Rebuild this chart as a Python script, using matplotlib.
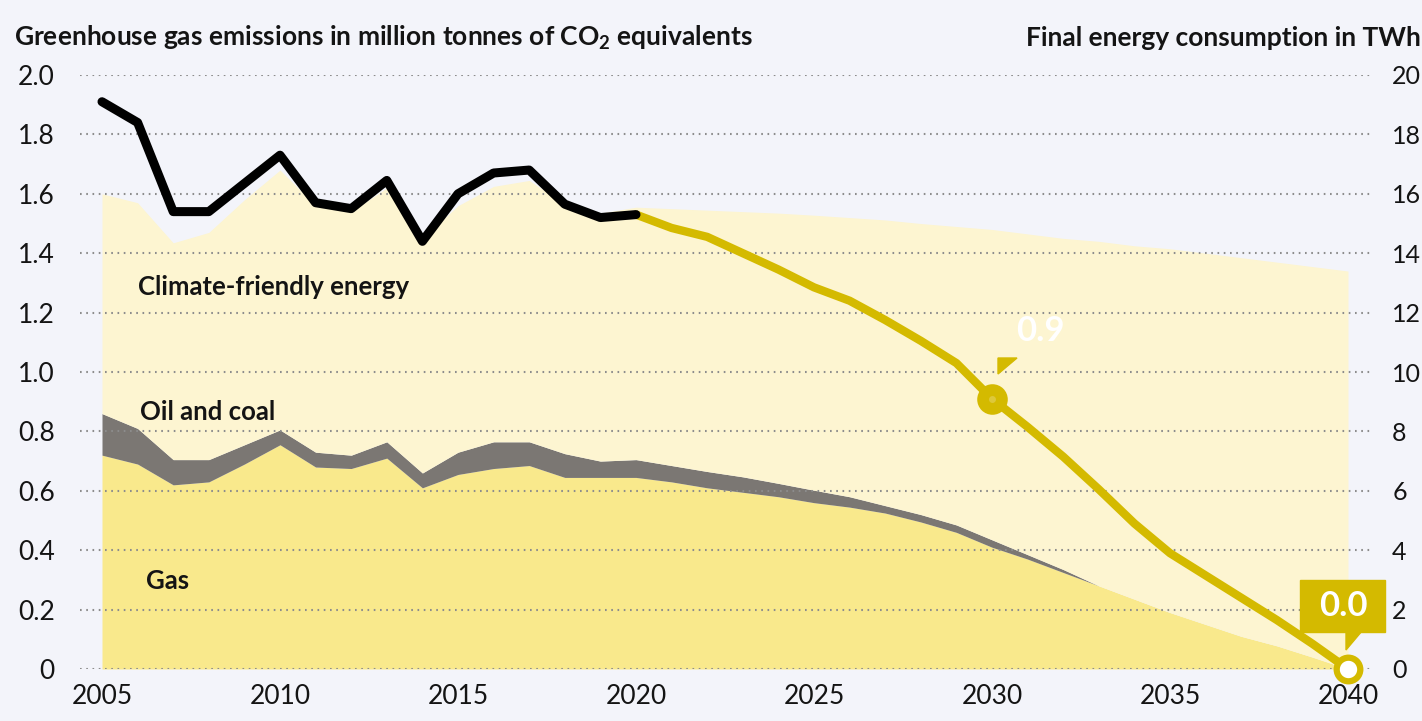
import matplotlib
matplotlib.use("Agg")
import matplotlib.pyplot as plt
import numpy as np
from matplotlib.patches import Polygon, Rectangle

plt.rcParams['font.family'] = ['Lato', 'DejaVu Sans']

# ---------------- data ----------------
years = list(range(2005, 2041))
# final energy consumption by source, TWh
gas = [7.2, 6.9, 6.2, 6.3, 6.9, 7.55, 6.8, 6.75, 7.1, 6.1, 6.55, 6.75, 6.85, 6.45, 6.45, 6.45,
       6.3, 6.1, 5.95, 5.8, 5.6, 5.45, 5.25, 4.95, 4.6, 4.1, 3.7, 3.25, 2.8, 2.35, 1.9, 1.5,
       1.1, 0.78, 0.4, 0.0]
oil_coal = [1.4, 1.2, 0.85, 0.75, 0.65, 0.5, 0.5, 0.45, 0.55, 0.5, 0.75, 0.9, 0.8, 0.8, 0.55, 0.6,
            0.55, 0.55, 0.52, 0.45, 0.42, 0.35, 0.25, 0.25, 0.25, 0.25, 0.15, 0.1, 0.0, 0.0, 0.0, 0.0,
            0.0, 0.0, 0.0, 0.0]
total_energy = [16.0, 15.7, 14.35, 14.7, 15.8, 16.8, 15.6, 15.4, 16.2, 14.5, 15.6, 16.25, 16.45, 15.65,
                15.35, 15.55, 15.5, 15.45, 15.4, 15.35, 15.28, 15.2, 15.12, 15.0, 14.9, 14.8, 14.65,
                14.5, 14.4, 14.25, 14.15, 14.0, 13.85, 13.7, 13.55, 13.4]
climate_friendly = [round(t - g - o, 2) for t, g, o in zip(total_energy, gas, oil_coal)]

# greenhouse gas emissions, million tonnes CO2e
hist_years = list(range(2005, 2021))
emissions = [1.91, 1.84, 1.54, 1.54, 1.635, 1.73, 1.57, 1.55, 1.645, 1.44, 1.60, 1.67, 1.68,
             1.565, 1.52, 1.53]
target_years = list(range(2020, 2041))
target = [1.53, 1.485, 1.455, 1.40, 1.345, 1.285, 1.24, 1.175, 1.105, 1.03, 0.91, 0.815, 0.715,
          0.605, 0.49, 0.39, 0.315, 0.24, 0.165, 0.085, 0.0]

left_ticks = [0, 0.2, 0.4, 0.6, 0.8, 1.0, 1.2, 1.4, 1.6, 1.8, 2.0]
left_labels = ['0', '0.2', '0.4', '0.6', '0.8', '1.0', '1.2', '1.4', '1.6', '1.8', '2.0']
right_ticks = [0, 2, 4, 6, 8, 10, 12, 14, 16, 18, 20]
x_ticks = [2005, 2010, 2015, 2020, 2025, 2030, 2035, 2040]

area_labels = ['Gas', 'Oil and coal', 'Climate-friendly energy']
callout_2030 = '0.9'
callout_2040 = '0.0'

# ---------------- style ----------------
BG = '#f3f4fa'
C_GAS = '#f9e98c'
C_OIL = '#7b7773'
C_CLIM = '#fdf5d1'
C_YEL = '#d4ba00'
GRID = '#8c8c8c'
TXT = '#141414'

W, H = 1422, 721
fig = plt.figure(figsize=(W / 100, H / 100), dpi=100, facecolor=BG)

def px(x0, y0, x1, y1):
    return [x0 / W, 1 - y1 / H, (x1 - x0) / W, (y1 - y0) / H]

ax2 = fig.add_axes(px(80, 75, 1372, 669))   # right axis: TWh (areas)
ax = ax2.twinx()
ax.yaxis.tick_left()
ax2.yaxis.tick_right()
ax.set_zorder(ax2.get_zorder() + 1)
ax.patch.set_visible(False)
ax2.set_facecolor(BG)

xmin = 2005 - 22 / 35.6
xmax = 2040 + 24 / 35.6
for a in (ax, ax2):
    a.set_xlim(xmin, xmax)
    for s in a.spines.values():
        s.set_visible(False)

# stacked areas
g = np.array(gas)
o = g + np.array(oil_coal)
t = o + np.array(climate_friendly)
ax2.fill_between(years, 0, g, color=C_GAS, lw=0)
ax2.fill_between(years, g, o, color=C_OIL, lw=0)
ax2.fill_between(years, o, t, color=C_CLIM, lw=0)
ax2.set_ylim(0, 20)
ax2.set_yticks(right_ticks)
ax2.set_yticklabels([str(v) for v in right_ticks])
ax2.tick_params(axis='y', length=0, pad=14.5, labelsize=18, labelcolor=TXT)
for lab in ax2.get_yticklabels():
    lab.set_horizontalalignment('left')
ax2.set_xticks(x_ticks)
ax2.set_xticklabels([str(v) for v in x_ticks])
ax2.tick_params(axis='x', length=0, pad=11, labelsize=19, labelcolor=TXT)

# left axis: emissions
ax.set_ylim(0, 2.0)
ax.set_yticks(left_ticks)
ax.set_yticklabels(left_labels)
ax.tick_params(axis='y', length=0, pad=18, labelsize=19, labelcolor=TXT,
               left=True, right=False, labelleft=True, labelright=False)
ax.grid(axis='y', color=GRID, lw=1.5, ls=(0, (0.8, 2.2)))
ax.set_axisbelow(False)

ax.plot(target_years, target, color=C_YEL, lw=6.0, solid_capstyle='round',
        solid_joinstyle='round', zorder=3, clip_on=False)
ax.plot(hist_years, emissions, color='black', lw=6.5, solid_capstyle='round',
        solid_joinstyle='round', zorder=4)

# markers
i30 = target_years.index(2030)
ax.plot([2030], [target[i30]], marker='o', ms=20, mfc=C_YEL, mec=C_YEL, mew=2,
        zorder=5, clip_on=False)
ax.plot([2030], [target[i30]], marker='o', ms=5, mfc='#ddc83a', mec='none',
        zorder=6, clip_on=False)
ax.plot([2040], [target[-1]], marker='o', ms=17, mfc='white', mec=C_YEL, mew=4.5,
        zorder=6, clip_on=False)

# callouts (pixel positions)
def fx(xp):
    return xp / W

def fy(yp):
    return 1 - yp / H

fig.text(fx(1040), fy(331), callout_2030, color='white', fontsize=25, fontweight='bold',
         ha='center', va='center', zorder=10)
fig.patches.append(Polygon([(fx(998), fy(358)), (fx(1017), fy(358)), (fx(998), fy(374))],
                           closed=True, transform=fig.transFigure, color=C_YEL, zorder=9))

fig.patches.append(Rectangle((fx(1300), fy(632)), (1385 - 1300) / W, (632 - 580) / H,
                             transform=fig.transFigure, color=C_YEL, zorder=9))
fig.patches.append(Polygon([(fx(1346), fy(631)), (fx(1362), fy(631)), (fx(1346), fy(650))],
                           closed=True, transform=fig.transFigure, color=C_YEL, zorder=9))
fig.text(fx(1343), fy(606), callout_2040, color='white', fontsize=25, fontweight='bold',
         ha='center', va='center', zorder=10)

# area labels
ax.text(2005 + (138 - 102) / 35.6, 1.285, area_labels[2], fontsize=18.5, fontweight='bold',
        ha='left', va='center', color=TXT, zorder=7)
ax.text(2005 + (140 - 102) / 35.6, 0.865, area_labels[1], fontsize=18.5, fontweight='bold',
        ha='left', va='center', color=TXT, zorder=7)
ax.text(2005 + (146 - 102) / 35.6, 0.297, area_labels[0], fontsize=18.5, fontweight='bold',
        ha='left', va='center', color=TXT, zorder=7)

# axis titles
fig.text(fx(14), fy(38), 'Greenhouse gas emissions in million tonnes of CO$_\\mathregular{2}$ equivalents',
         fontsize=19, fontweight='bold', ha='left', va='center', color=TXT)
fig.text(fx(1421), fy(38), 'Final energy consumption in TWh', fontsize=19, fontweight='bold',
         ha='right', va='center', color=TXT)

fig.savefig('out.png', dpi=100, facecolor=BG)
